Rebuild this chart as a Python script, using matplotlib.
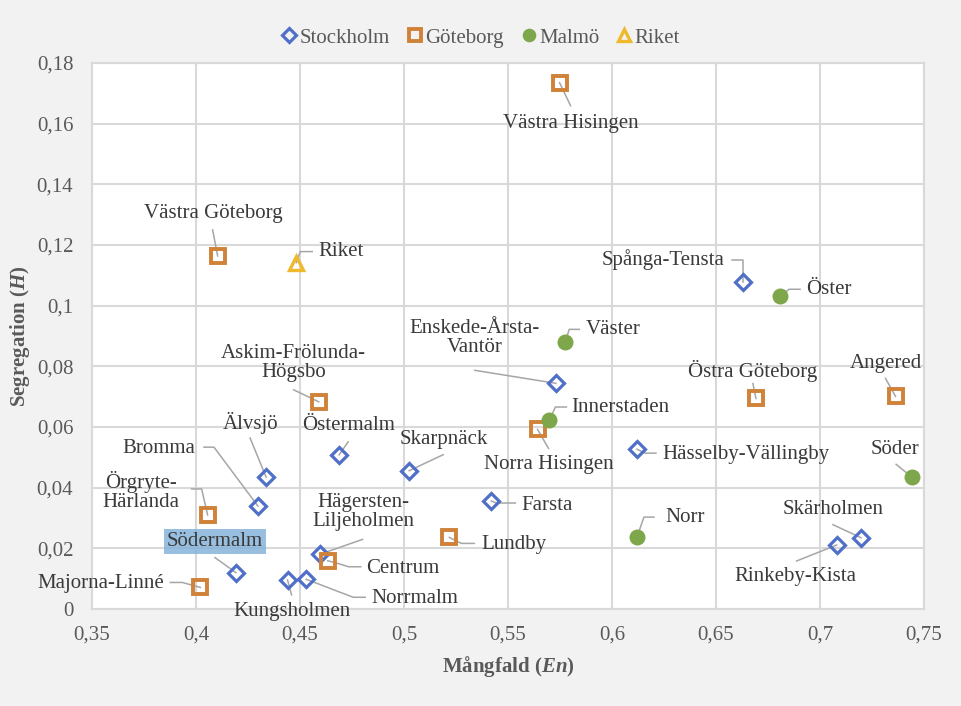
import matplotlib
matplotlib.use('Agg')
import matplotlib.pyplot as plt
from matplotlib.ticker import FuncFormatter, MultipleLocator
import numpy as np

plt.rcParams['font.family'] = ['Liberation Serif', 'DejaVu Serif']
plt.rcParams['mathtext.fontset'] = 'custom'
plt.rcParams['mathtext.rm'] = 'Liberation Serif'
plt.rcParams['mathtext.it'] = 'Liberation Serif:italic'
plt.rcParams['mathtext.bf'] = 'Liberation Serif:bold'
plt.rcParams['mathtext.bfit'] = 'Liberation Serif:italic:bold'

# Stockholm
sthlm_names = ['Spånga-Tensta', 'Enskede-Årsta-\nVantör', 'Hässelby-Vällingby', 'Farsta',
               'Skarpnäck', 'Skärholmen', 'Rinkeby-Kista', 'Älvsjö', 'Bromma', 'Östermalm',
               'Södermalm', 'Kungsholmen', 'Norrmalm', 'Hägersten-\nLiljeholmen']
sthlm_x = [0.663, 0.573, 0.612, 0.542, 0.5025, 0.7197, 0.708, 0.4337, 0.4298, 0.4688,
           0.4192, 0.444, 0.453, 0.4594]
sthlm_y = [0.1078, 0.0744, 0.0527, 0.0356, 0.0456, 0.0235, 0.0211, 0.0435, 0.0339, 0.0508,
           0.0120, 0.0096, 0.0098, 0.0180]

# Göteborg
gbg_names = ['Västra Hisingen', 'Västra Göteborg', 'Askim-Frölunda-\nHögsbo', 'Östra Göteborg',
             'Angered', 'Norra Hisingen', 'Lundby', 'Örgryte-\nHärlanda', 'Majorna-Linné', 'Centrum']
gbg_x = [0.5748, 0.4104, 0.459, 0.6692, 0.7363, 0.5642, 0.5218, 0.4056, 0.4021, 0.4633]
gbg_y = [0.1735, 0.1164, 0.0683, 0.0694, 0.0701, 0.0592, 0.0236, 0.0310, 0.0071, 0.0159]

# Malmö
mlm_names = ['Öster', 'Väster', 'Innerstaden', 'Söder', 'Norr']
mlm_x = [0.6808, 0.5775, 0.5699, 0.7443, 0.612]
mlm_y = [0.1031, 0.0879, 0.0623, 0.0434, 0.0237]

# Riket
riket_names = ['Riket']
riket_x = [0.4482]
riket_y = [0.1142]

# label placement: text centre offset and leader path, in pixels (y down)
label_pos = {
    'Västra Hisingen': (11, 41, [(11, 23)]),
    'Västra Göteborg': (-4, -42, [(-5, -26)]),
    'Riket': (45, -11, [(4, -11), (16, -11)]),
    'Spånga-Tensta': (-80, -22, [(0, -22), (-11, -22)]),
    'Öster': (49, -7, [(9, -7), (20, -7)]),
    'Väster': (48, -13, [(4, -13), (14, -13)]),
    'Enskede-Årsta-\nVantör': (-81, -45, [(-81, -13)]),
    'Östra Göteborg': (-3, -28, [(-3, -15)]),
    'Angered': (-10, -33, [(-10, -18)]),
    'Innerstaden': (71, -13, [(6, -13), (17, -13)]),
    'Norra Hisingen': (11, 35, [(11, 19)]),
    'Skarpnäck': (35, -31, [(34, -16)]),
    'Hässelby-Vällingby': (109, 5, [(8, 4), (19, 4)]),
    'Söder': (-17, -28, [(-16, -13)]),
    'Farsta': (56, 4, [(5, 2), (24, 2)]),
    'Norr': (48, -20, [(7, -20), (17, -20)]),
    'Skärholmen': (-28, -28, [(-28, -13)]),
    'Rinkeby-Kista': (-41, 32, [(-40, 16)]),
    'Lundby': (65, 7, [(12, 6), (25, 6)]),
    'Älvsjö': (-16, -54, [(-16, -39)]),
    'Östermalm': (9, -29, [(9, -13)]),
    'Bromma': (-99, -58, [(-44, -59), (-54, -59)]),
    'Örgryte-\nHärlanda': (-67, -24, [(-6, -26), (-16, -26)]),
    'Södermalm': (-21, -31, [(-21, -15)]),
    'Hägersten-\nLiljeholmen': (44, -42, [(43, -15)]),
    'Centrum': (75, 8, [(8, 2), (21, 6), (33, 6)]),
    'Norrmalm': (109, 19, [(47, 18), (59, 18)]),
    'Kungsholmen': (4, 32, [(4, 15)]),
    'Majorna-Linné': (-100, -4, [(-18, -5), (-30, -5)]),
    'Askim-Frölunda-\nHögsbo': (-25, -39, [(-25, -12)]),
}

txt_col = '#3a3a3a'
tick_col = '#595959'
grid_col = '#d9d9d9'
fs = 15

fig = plt.figure(figsize=(9.62, 7.06), dpi=100, facecolor='#f2f2f2')
ax = fig.add_axes([92 / 962, 97 / 706, 832 / 962, 546 / 706])
ax.set_facecolor('white')

h1, = ax.plot(sthlm_x, sthlm_y, 'D', ms=8, mfc='none', mec='#4f6fc8', mew=2.3,
              label='Stockholm', zorder=4)
h2, = ax.plot(gbg_x, gbg_y, 's', ms=10, mfc='none', mec='#cf8238', mew=2.8,
              label='Göteborg', zorder=4)
h3, = ax.plot(mlm_x, mlm_y, 'o', ms=11.5, mfc='#7ea64a', mec='#7ea64a', mew=0,
              label='Malmö', zorder=4)
h4, = ax.plot(riket_x, riket_y, '^', ms=9.5, mfc='none', mec='#eeb92c', mew=2.4,
              label='Riket', zorder=4)

ax.set_xlim(0.35, 0.75)
ax.set_ylim(0, 0.18)
ax.xaxis.set_major_locator(MultipleLocator(0.05))
ax.yaxis.set_major_locator(MultipleLocator(0.02))


def comma(v, pos):
    s = f'{v:.2f}'.rstrip('0').rstrip('.')
    return s.replace('.', ',')


ax.xaxis.set_major_formatter(FuncFormatter(comma))
ax.yaxis.set_major_formatter(FuncFormatter(comma))
ax.tick_params(length=0, labelsize=fs, labelcolor=tick_col)
ax.tick_params(axis='x', pad=12)
ax.tick_params(axis='y', pad=13.5)
ax.grid(True, color=grid_col, lw=1.5, zorder=0)
ax.set_axisbelow(True)
for sp in ax.spines.values():
    sp.set_color(grid_col)
    sp.set_linewidth(1.5)

ax.set_xlabel(r'Mångfald ($\mathbfit{En}$)', fontsize=fs, fontweight='bold',
              color=tick_col, labelpad=7)
ax.set_ylabel(r'Segregation ($\mathbfit{H}$)', fontsize=fs, fontweight='bold',
              color=tick_col, labelpad=3)

# data labels with leader lines
fig.canvas.draw()
inv = ax.transData.inverted()
for names, xs, ys in [(sthlm_names, sthlm_x, sthlm_y), (gbg_names, gbg_x, gbg_y),
                      (mlm_names, mlm_x, mlm_y), (riket_names, riket_x, riket_y)]:
    for n, x, y in zip(names, xs, ys):
        dx, dy, path = label_pos[n]
        px, py = ax.transData.transform((x, y))
        verts = [(px, py)] + [(px + a, py - b) for a, b in path]
        dv = inv.transform(verts)
        ax.plot(dv[:, 0], dv[:, 1], color='#a6a6a6', lw=1.1, zorder=3, clip_on=False)
        tx, ty = inv.transform((px + dx, py - dy))
        kw = {}
        if n == 'Södermalm':
            kw['bbox'] = dict(boxstyle='square,pad=0.15', fc='#7fb0d8', ec='none', alpha=0.8)
        ax.text(tx, ty, n, fontsize=fs, color=txt_col, ha='center', va='center',
                linespacing=1.0, zorder=5, **kw)

fig.legend(handles=[h1, h2, h3, h4], loc='center', bbox_to_anchor=(0.5, 1 - 38 / 706),
           ncol=4, frameon=False, fontsize=fs, handletextpad=0.15, columnspacing=0.85,
           markerscale=0.85, labelcolor=tick_col, handlelength=0.7)

fig.savefig('out.png', dpi=100, facecolor=fig.get_facecolor())
